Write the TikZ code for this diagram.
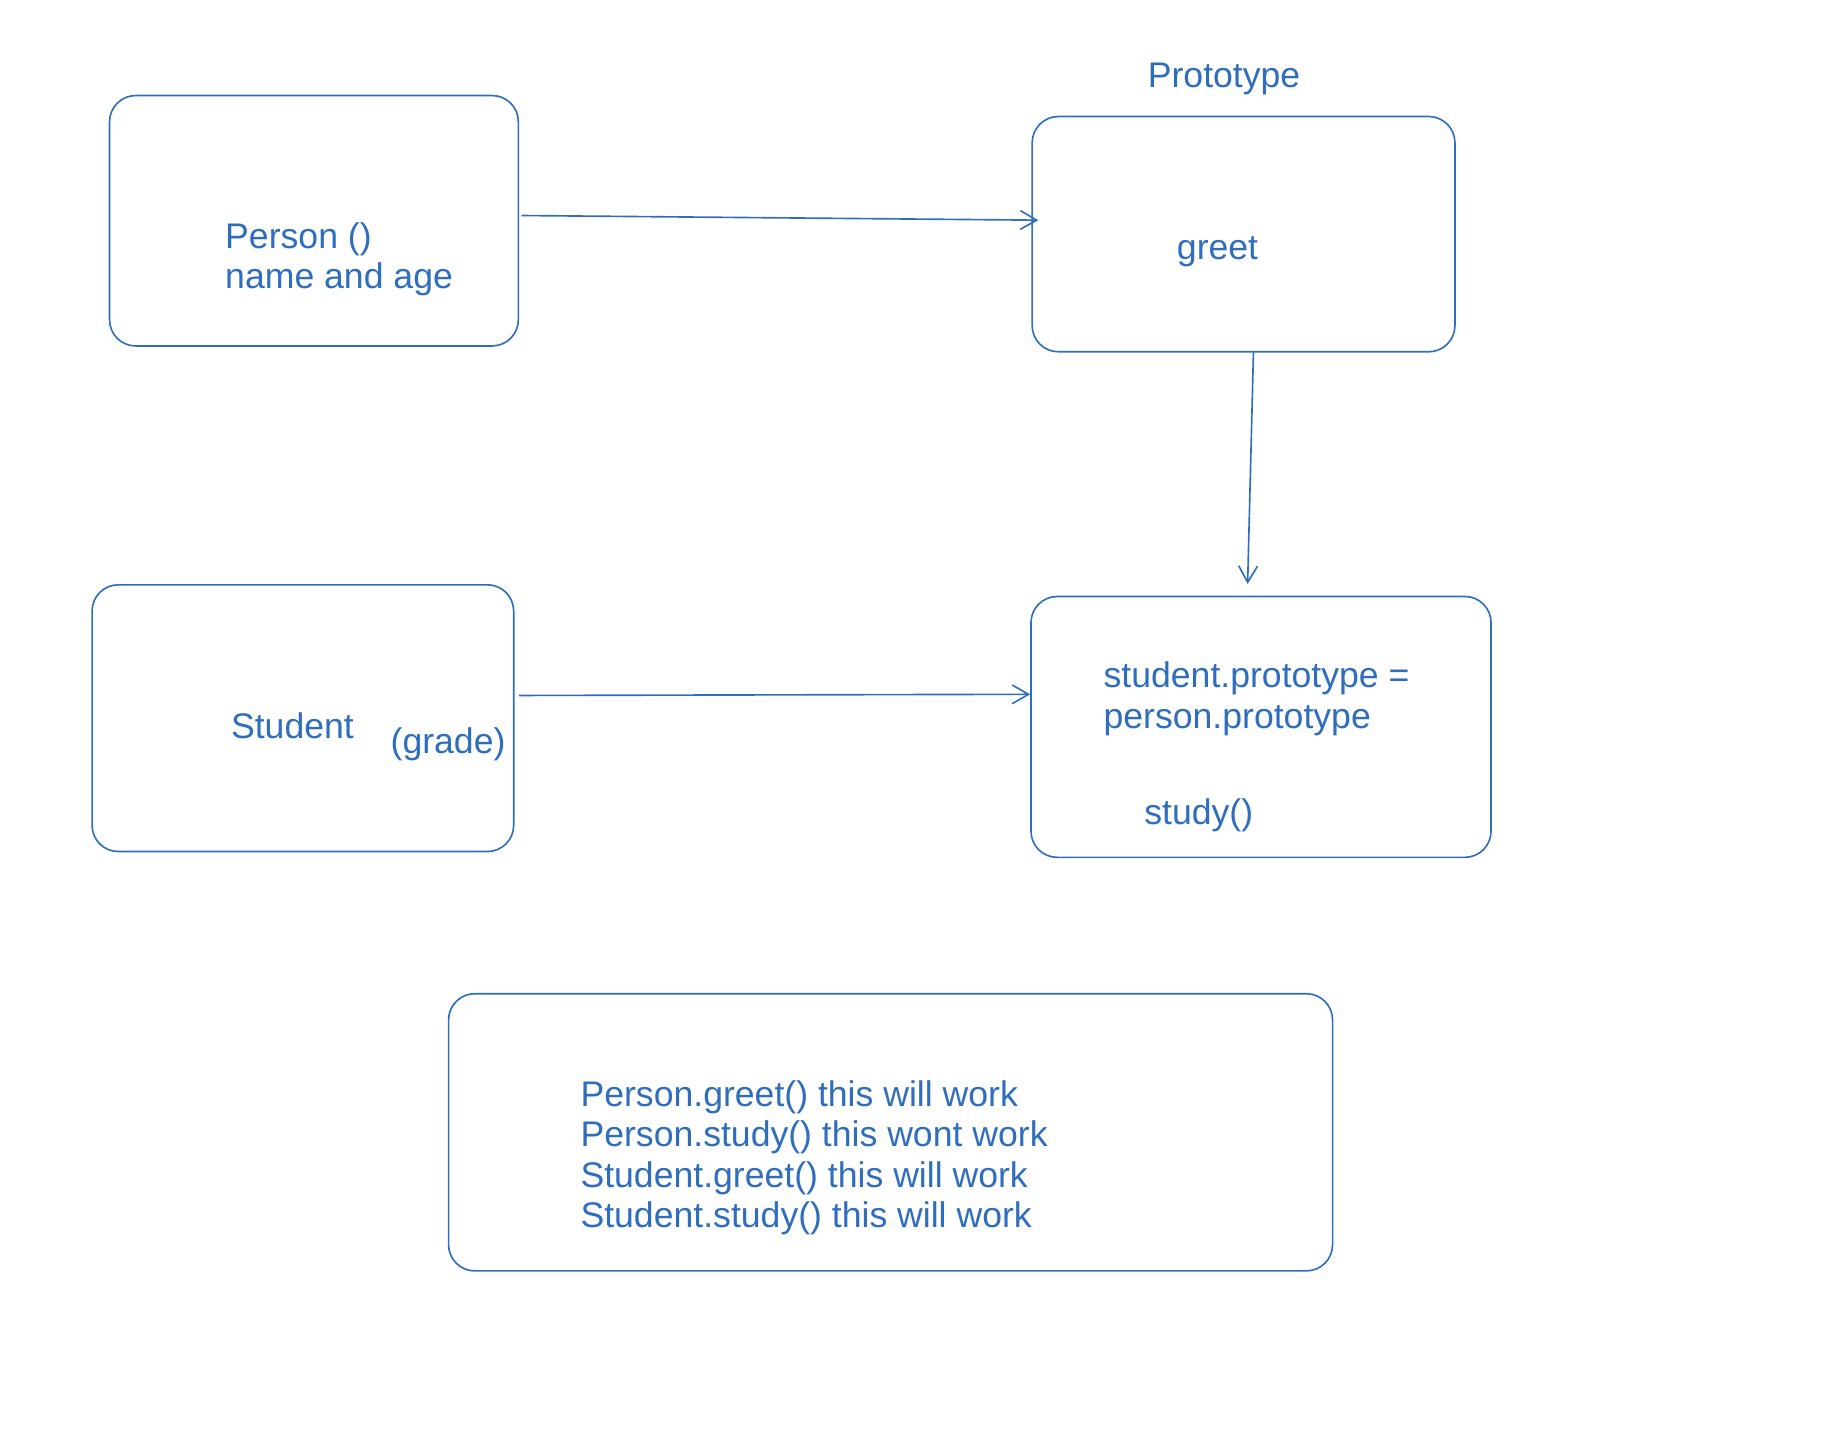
\documentclass[tikz,border=0pt]{standalone}
\usepackage{fontspec}
\setmainfont{Liberation Sans}
\usetikzlibrary{arrows.meta}
\definecolor{sketchblue}{RGB}{47,110,190}

\begin{document}
\begin{tikzpicture}[x=0.02cm, y=-0.02cm]
        \tikzstyle{box} = [draw=sketchblue, line width=0.8pt, rectangle, rounded corners=0.45cm, inner sep=0pt]
        \tikzstyle{txt} = [text=sketchblue, font=\fontsize{17.4}{19.8}\selectfont, inner sep=0pt, align=left]
        \tikzstyle{arr} = [draw=sketchblue, line width=0.8pt, -{Straight Barb[length=0.28cm, width=0.32cm]}]
        \useasboundingbox (0,0) rectangle (1567.5,1234);
        % boxes
        \node (person) [box, minimum width=7.02cm, minimum height=4.3cm] at (269.5,189.5) {};
        \node (greet) [box, minimum width=7.26cm, minimum height=4.04cm] at (1067.5,201) {};
        \node (student) [box, minimum width=7.24cm, minimum height=4.58cm] at (260,616.5) {};
        \node (studyproto) [box, minimum width=7.9cm, minimum height=4.48cm] at (1082.5,624) {};
        \node (calls) [box, minimum width=15.18cm, minimum height=4.76cm] at (764.5,972) {};
        % texts
        \node (protolabel) [txt, anchor=base west] at (985,75) {Prototype};
        \node (persontxt) [txt, anchor=base west] at (193,248) {Person ()\\name and age};
        \node (greettxt) [txt, anchor=base west] at (1010,223) {greet};
        \node (studenttxt) [txt, anchor=base west] at (198,634) {Student};
        \node (gradetxt) [txt, anchor=base west] at (335,647) {(grade)};
        \node (assigntxt) [txt, anchor=base west] at (947,625) {student.prototype =\\person.prototype};
        \node (studytxt) [txt, anchor=base west] at (982,708) {study()};
        \node (callstxt) [txt, anchor=base west] at (498,1054) {Person.greet() this will work\\Person.study() this wont work\\Student.greet() this will work\\Student.study() this will work};
        % connectors
        \draw[arr] ([xshift=0.04cm, yshift=0.09cm]person.east) -- ([xshift=0.12cm, yshift=0.24cm]greet.west);
        \draw[arr] ([xshift=0.17cm]greet.south) -- ([xshift=-0.23cm, yshift=0.2cm]studyproto.north);
        \draw[arr] ([xshift=0.08cm, yshift=0.39cm]student.east) -- ([yshift=0.56cm]studyproto.west);
\end{tikzpicture}
\end{document}
